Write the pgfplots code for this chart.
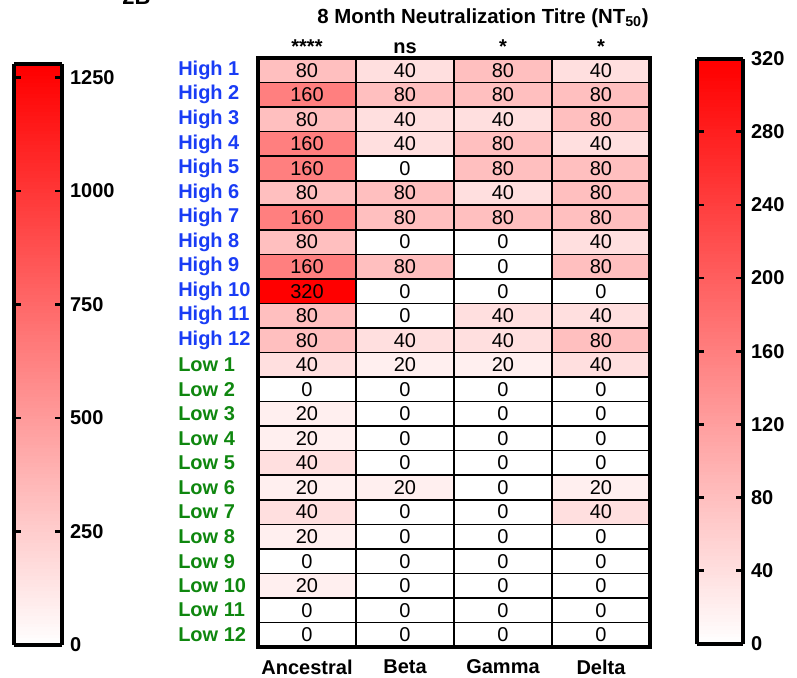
\documentclass[border=0pt]{standalone}
\usepackage{pgfplots}
\pgfplotsset{compat=1.18}
\usepackage{pgfplotstable}
\usepackage{fontspec}
\setmainfont{Liberation Sans}
\definecolor{hb}{RGB}{25,60,245}
\definecolor{lg}{RGB}{15,135,15}
\pgfplotsset{colormap={wr}{rgb255=(255,255,255) rgb255=(255,0,0)}}
\newcommand\fs{\fontsize{15}{18}\selectfont}
\pgfplotsset{cbstyle/.style={
  samples=160,
  axis line style={line width=3pt},
  tick align=inside, ytick pos=both, yticklabel pos=right,
  major tick length=5.5pt,
  tick style={line width=2pt, black},
  yticklabel style={font=\fontsize{15}{18}\selectfont\bfseries, xshift=2.5pt},
  /pgf/number format/assume math mode=true,
  /pgf/number format/1000 sep={},
  scaled y ticks=false}}
\pgfplotstableread{
x y v
0 0 80
1 0 40
2 0 80
3 0 40
0 1 160
1 1 80
2 1 80
3 1 80
0 2 80
1 2 40
2 2 40
3 2 80
0 3 160
1 3 40
2 3 80
3 3 40
0 4 160
1 4 0
2 4 80
3 4 80
0 5 80
1 5 80
2 5 40
3 5 80
0 6 160
1 6 80
2 6 80
3 6 80
0 7 80
1 7 0
2 7 0
3 7 40
0 8 160
1 8 80
2 8 0
3 8 80
0 9 320
1 9 0
2 9 0
3 9 0
0 10 80
1 10 0
2 10 40
3 10 40
0 11 80
1 11 40
2 11 40
3 11 80
0 12 40
1 12 20
2 12 20
3 12 40
0 13 0
1 13 0
2 13 0
3 13 0
0 14 20
1 14 0
2 14 0
3 14 0
0 15 20
1 15 0
2 15 0
3 15 0
0 16 40
1 16 0
2 16 0
3 16 0
0 17 20
1 17 20
2 17 0
3 17 20
0 18 40
1 18 0
2 18 0
3 18 40
0 19 20
1 19 0
2 19 0
3 19 0
0 20 0
1 20 0
2 20 0
3 20 0
0 21 20
1 21 0
2 21 0
3 21 0
0 22 0
1 22 0
2 22 0
3 22 0
0 23 0
1 23 0
2 23 0
3 23 0
}\heat
\begin{document}
\begin{tikzpicture}
\useasboundingbox (0,0) rectangle (597.75pt,-508.5pt);
\node[anchor=base west, inner sep=0, font=\fontsize{16.5}{20}\selectfont\bfseries] at (91.5pt,-3.75pt) {2B};
\node[anchor=base, inner sep=0, font=\fontsize{15.3}{18}\selectfont\bfseries] at (362.25pt,-17.25pt) {8 Month Neutralization Titre (NT\textsubscript{50})};
\begin{axis}[
  at={(193.5pt,-43.5pt)}, anchor=north west,
  scale only axis, width=294pt, height=441.75pt,
  xmin=-0.5, xmax=3.5, ymin=-0.5, ymax=23.5, y dir=reverse,
  colormap name=wr, point meta min=0, point meta max=320,
  /pgf/number format/assume math mode=true,
  xtick={0,1,2,3}, xticklabels={Ancestral,Beta,Gamma,Delta},
  ytick={0,1,...,23},
  yticklabels={\textcolor{hb}{High 1},\textcolor{hb}{High 2},\textcolor{hb}{High 3},\textcolor{hb}{High 4},\textcolor{hb}{High 5},\textcolor{hb}{High 6},\textcolor{hb}{High 7},\textcolor{hb}{High 8},\textcolor{hb}{High 9},\textcolor{hb}{High 10},\textcolor{hb}{High 11},\textcolor{hb}{High 12},\textcolor{lg}{Low 1},\textcolor{lg}{Low 2},\textcolor{lg}{Low 3},\textcolor{lg}{Low 4},\textcolor{lg}{Low 5},\textcolor{lg}{Low 6},\textcolor{lg}{Low 7},\textcolor{lg}{Low 8},\textcolor{lg}{Low 9},\textcolor{lg}{Low 10},\textcolor{lg}{Low 11},\textcolor{lg}{Low 12}},
  minor xtick={0.5,1.5,2.5}, minor ytick={0.5,1.5,...,22.5},
  minor grid style={black, line width=1.2pt},
  xminorgrids, yminorgrids,
  major tick length=0pt, minor tick length=0pt,
  tick label style={font=\fs\bfseries},
  xticklabel style={yshift=-6pt},
  yticklabel style={anchor=west, inner sep=0pt, xshift=-60pt},
  axis line style={line width=2.5pt},
  axis on top, clip=false,
]
\addplot[matrix plot*, mesh/cols=4, point meta=explicit] table[x=x,y=y,meta=v]{\heat};
\addplot[only marks, mark=*, mark size=0pt, mark options={draw=none,fill=none}, point meta=explicit,
  nodes near coords, nodes near coords align={center},
  every node near coord/.append style={text=black, font=\fs, anchor=center}] table[x=x,y=y,meta=v]{\heat};
\node[anchor=base, yshift=3.75pt, font=\fs\bfseries] at (axis cs:0,-0.5) {****};
\node[anchor=base, yshift=3.75pt, font=\fs\bfseries] at (axis cs:1,-0.5) {ns};
\node[anchor=base, yshift=3.75pt, font=\fs\bfseries] at (axis cs:2,-0.5) {*};
\node[anchor=base, yshift=3.75pt, font=\fs\bfseries] at (axis cs:3,-0.5) {*};
\end{axis}
% left colour scale
\begin{axis}[at={(10.5pt,-48pt)}, anchor=north west, scale only axis, width=1pt, height=1pt,
  hide axis, xmin=0, xmax=1, ymin=0, ymax=1,
  colormap name=wr, point meta min=0, point meta max=1280, colorbar sampled,
  colorbar shift/.style={xshift=0pt},
  colorbar style={at={(parent axis.north west)}, anchor=north west, width=36pt, height=435.75pt,
    ytick={0,250,...,1250}, cbstyle}]
\addplot[draw=none] coordinates {(0,0)};
\end{axis}
% right colour scale
\begin{axis}[at={(522.75pt,-43.875pt)}, anchor=north west, scale only axis, width=1pt, height=1pt,
  hide axis, xmin=0, xmax=1, ymin=0, ymax=1,
  colormap name=wr, point meta min=0, point meta max=320, colorbar sampled,
  colorbar shift/.style={xshift=0pt},
  colorbar style={at={(parent axis.north west)}, anchor=north west, width=34.5pt, height=439pt,
    ytick={0,40,...,320}, cbstyle}]
\addplot[draw=none] coordinates {(0,0)};
\end{axis}
\end{tikzpicture}
\end{document}
